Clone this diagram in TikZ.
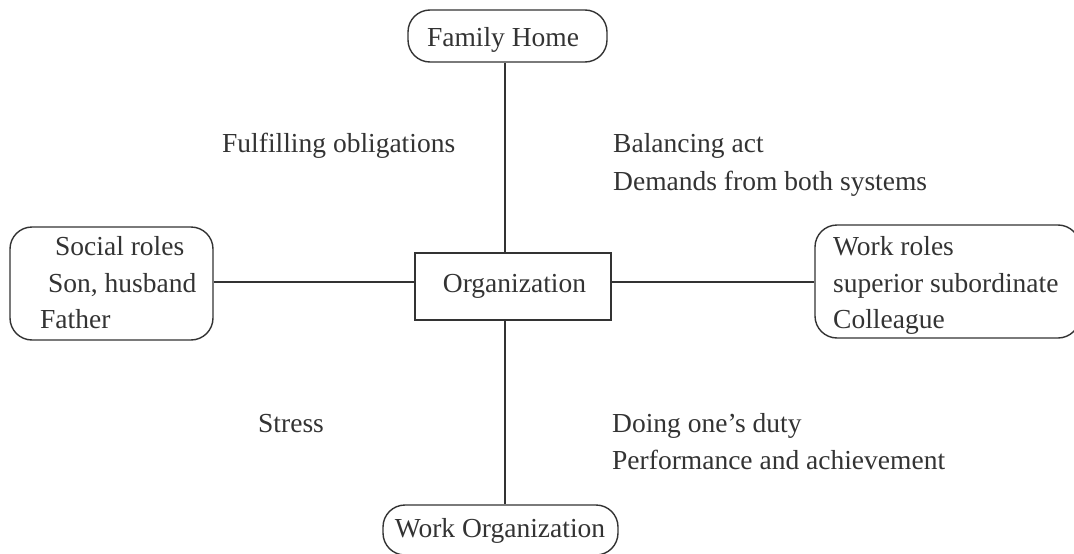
\documentclass[tikz,border=0pt]{standalone}
\usepackage{fontspec}
\setmainfont{Liberation Serif}
\begin{document}
\begin{tikzpicture}[x=1pt,y=-1pt,
  every node/.style={font=\fontsize{27.5}{33}\selectfont, text=black!80},
  frame/.style={draw=black!80, line width=1.4pt, inner sep=0pt, minimum width=#1},
  roundbox/.style={frame=#1, rounded corners=22pt},
  squarebox/.style={frame=#1},
  txt/.style={inner sep=0pt, anchor=base west},
  ctxt/.style={inner sep=0pt, anchor=base},
  link/.style={draw=black!80, line width=1.4pt}]
\useasboundingbox (0,0) rectangle (1074,554);
\clip (0,0) rectangle (1074,554);

% the five boxes
\node[roundbox=199pt, minimum height=52pt] (fam) at (507.5,36) {};
\node[squarebox=196pt, minimum height=67pt] (org) at (513,286.5) {};
\node[roundbox=235pt, minimum height=50pt] (wrk) at (500.5,530) {};
\node[roundbox=203pt, minimum height=113pt] (soc) at (111.5,283.5) {};
\node[roundbox=265pt, minimum height=113pt] (rol) at (947.5,281.5) {};

% box texts
\node[ctxt] (famt) at (503,46) {Family Home};
\node[ctxt] (orgt) at (514.5,292) {Organization};
\node[ctxt] (wrkt) at (500,537) {Work Organization};
\node[txt] (soc1) at (55,255) {Social roles};
\node[txt] (soc2) at (48,292) {Son, husband};
\node[txt] (soc3) at (40,328) {Father};
\node[txt] (rol1) at (833,255) {Work roles};
\node[txt] (rol2) at (833,292) {superior subordinate};
\node[txt] (rol3) at (833,328) {Colleague};

% connecting lines
\coordinate (spine) at (505,0);
\coordinate (beam) at (0,282);
\draw[link] (fam.south -| spine) -- (org.north -| spine);
\draw[link] (org.south -| spine) -- (wrk.north -| spine);
\draw[link] (soc.east |- beam) -- (org.west |- beam);
\draw[link] (org.east |- beam) -- (rol.west |- beam);

% quadrant captions
\node[txt] (q1) at (222,152) {Fulfilling obligations};
\node[txt] (q2a) at (613,152) {Balancing act};
\node[txt] (q2b) at (613,190) {Demands from both systems};
\node[txt] (q3) at (258,432) {Stress};
\node[txt] (q4a) at (612,432) {Doing one’s duty};
\node[txt] (q4b) at (612,469) {Performance and achievement};
\end{tikzpicture}
\end{document}
